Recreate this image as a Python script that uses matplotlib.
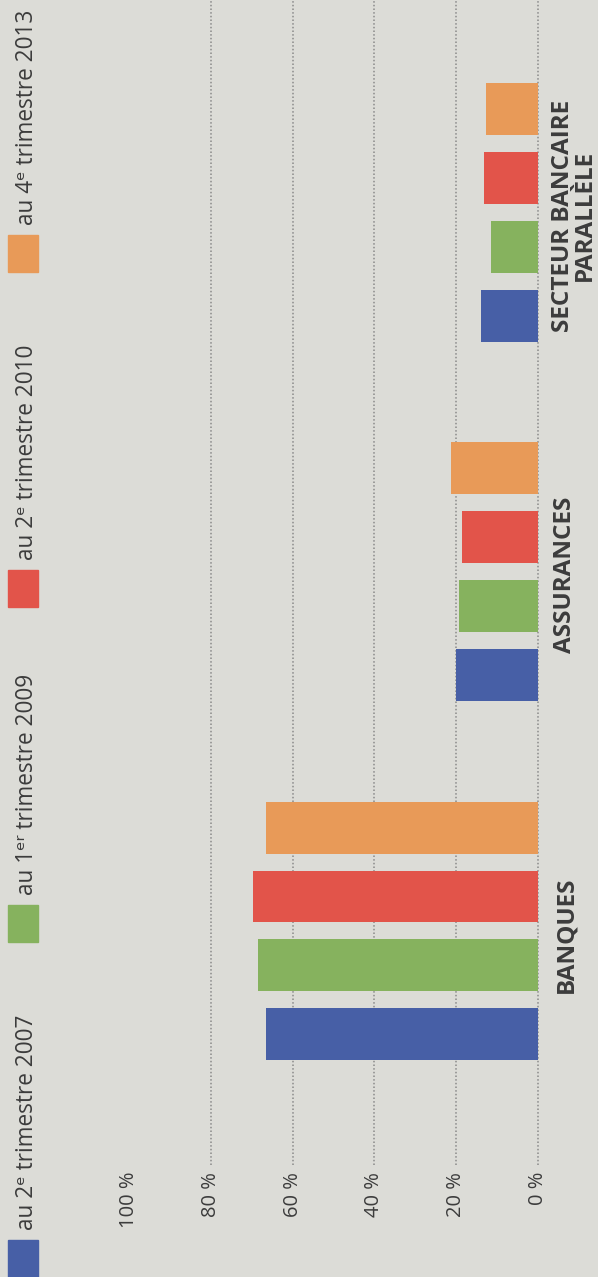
import matplotlib
matplotlib.use("Agg")
import matplotlib.pyplot as plt
from matplotlib.patches import Rectangle
from matplotlib.transforms import blended_transform_factory
import numpy as np

# data
categories = ["BANQUES", "ASSURANCES", "SECTEUR BANCAIRE\nPARALLÈLE"]
series = ["au 2ᵉ trimestre 2007", "au 1ᵉʳ trimestre 2009",
          "au 2ᵉ trimestre 2010", "au 4ᵉ trimestre 2013"]
values = {
    "au 2ᵉ trimestre 2007": [66.5, 20.0, 13.9],
    "au 1ᵉʳ trimestre 2009": [68.5, 19.3, 11.5],
    "au 2ᵉ trimestre 2010": [69.7, 18.6, 13.2],
    "au 4ᵉ trimestre 2013": [66.5, 21.3, 12.7],
}
ticks = [0, 20, 40, 60, 80, 100]
tick_labels = ["0 %", "20 %", "40 %", "60 %", "80 %", "100 %"]
colors = ["#475fa6", "#86b25e", "#e2544a", "#e89a58"]

bg = "#dcdcd7"
txt = "#3c3c3c"
W, H = 598, 1277
fam = ["Open Sans", "DejaVu Sans"]

fig = plt.figure(figsize=(W / 100, H / 100), dpi=100)
fig.patch.set_facecolor(bg)

# axes: 0 % on the right, values grow to the left (chart printed sideways)
ax = fig.add_axes([121 / W, (H - 1165) / H, (542 - 121) / W, 1165 / H])
ax.set_facecolor(bg)
ax.set_xlim(102, -1)
ax.set_ylim(-0.651, 2.59)

groups = np.arange(len(categories))
step = 69 / 359.5
bh = 52 / 359.5
for j, name in enumerate(series):
    ax.barh(groups + (j - 1.5) * step, values[name], height=bh,
            color=colors[j], zorder=3)

ax.set_xticks(ticks)
ax.set_xticklabels(tick_labels, rotation=90, fontsize=14.5, color=txt,
                   family=fam)
ax.tick_params(axis="x", length=0, pad=5)
ax.set_yticks([])
ax.grid(axis="x", color="#8a8a8a", linestyle=(0, (1, 1.4)), linewidth=1.1,
        zorder=1)
ax.xaxis.get_gridlines()[-1].set_visible(False)
for s in ax.spines.values():
    s.set_visible(False)

# category labels, to the right of the bars
tr = blended_transform_factory(fig.transFigure, ax.transData)
label_x = [566, 565, 574]
for g, cat in enumerate(categories):
    ax.text(label_x[g] / W, g - 0.01, cat, transform=tr, rotation=90,
            ha="center", va="center", multialignment="center",
            fontsize=17.5, fontweight="bold", color=txt, family=fam,
            linespacing=0.88)

# legend along the left edge
for i, name in enumerate(series):
    bottom = 1277 - i * 335
    fig.add_artist(Rectangle((8 / W, (H - bottom) / H), 30 / W, 37 / H,
                             transform=fig.transFigure, color=colors[i]))
    fig.text(33 / W, (H - (bottom - 47)) / H, name, rotation=90,
             rotation_mode="anchor", ha="left", va="baseline",
             fontsize=16.3, color=txt, family=fam)

fig.savefig("out.png", dpi=100, facecolor=bg)
